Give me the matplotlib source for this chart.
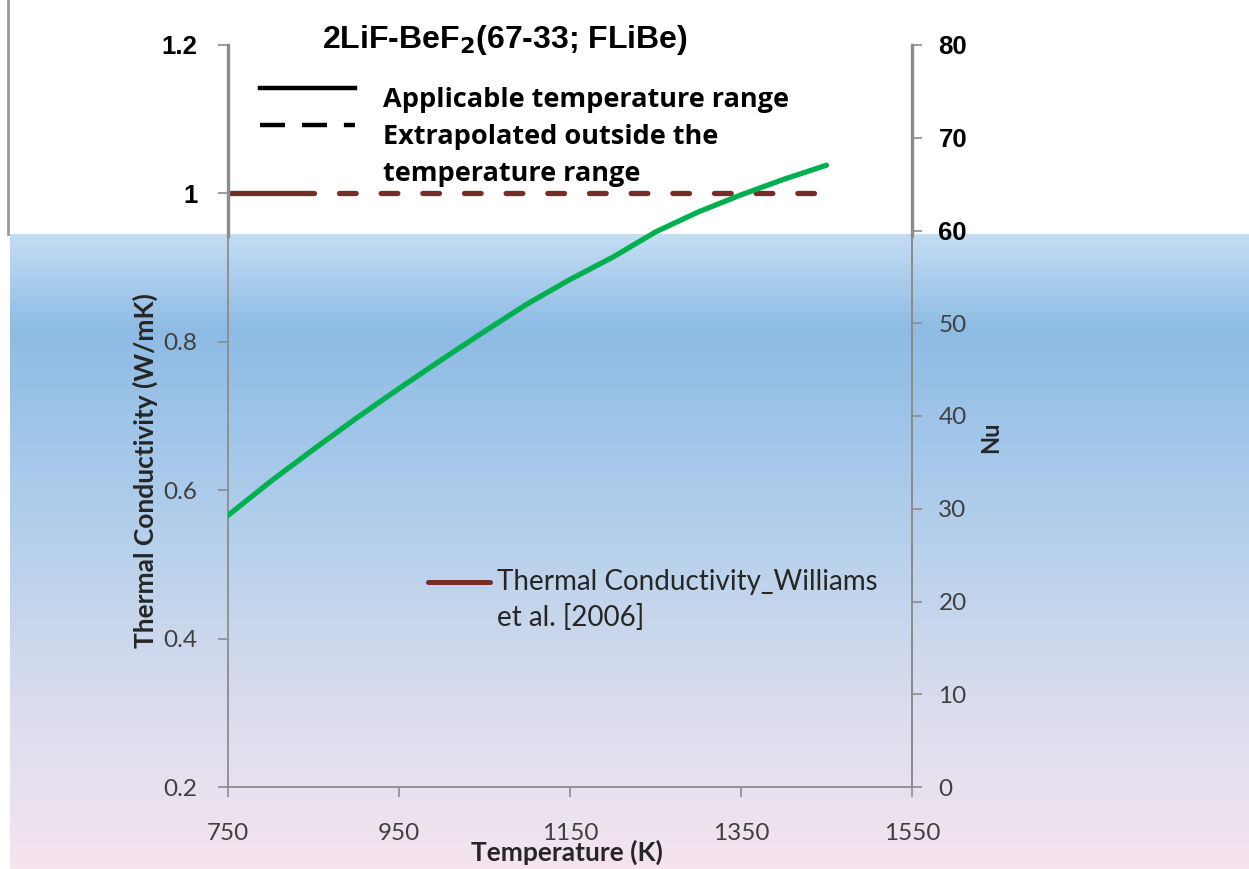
import numpy as np
import matplotlib
matplotlib.use("Agg")
import matplotlib.pyplot as plt
from matplotlib.colors import LinearSegmentedColormap

plt.rcParams["lines.scale_dashes"] = False

# data
temp_fit = [750, 800, 850, 900, 950, 1000, 1050, 1100, 1150, 1200, 1250, 1300, 1350, 1400, 1450]
k_fit = [0.566, 0.612, 0.655, 0.697, 0.737, 0.776, 0.814, 0.851, 0.884, 0.914, 0.948, 0.975, 0.998, 1.019, 1.038]

temp_williams = [750, 850]
k_williams = [1.0, 1.0]
temp_williams_ext = [850, 1450]
k_williams_ext = [1.0, 1.0]

left_ticks = [0.2, 0.4, 0.6, 0.8, 1.0, 1.2]
left_labels = ["0.2", "0.4", "0.6", "0.8", "1", "1.2"]
right_ticks = [0, 10, 20, 30, 40, 50, 60, 70, 80]
x_ticks = [750, 950, 1150, 1350, 1550]

W, H = 1249, 869
fig = plt.figure(figsize=(W / 100, H / 100), dpi=100)
fig.patch.set_facecolor("white")

# background gradient (lower part of the picture)
bg = fig.add_axes([0, 0, 1, 1], zorder=-10)
bg.set_xlim(0, W)
bg.set_ylim(H, 0)
bg.axis("off")
stops = [(0.0, "#c4ddf3"), (0.15, "#8ebbe4"), (0.35, "#a5c8ea"), (0.56, "#c0d4ec"),
         (0.74, "#dbdcee"), (0.92, "#ece2f0"), (1.0, "#f6e4ef")]
cmap = LinearSegmentedColormap.from_list("bgfade", stops)
grad = np.linspace(0, 1, 256).reshape(-1, 1)
bg.imshow(grad, cmap=cmap, aspect="auto", extent=[10, W, H, 234], interpolation="bilinear")
bg.plot([8, 8], [0, 234], color="#9a9a9a", lw=2)

ax = fig.add_axes([228 / W, 1 - 787 / H, 684 / W, 742 / H])
ax.set_facecolor("none")
ax2 = ax.twinx()

ax.plot(temp_fit, k_fit, color="#00b050", lw=3.8, solid_capstyle="round", zorder=3)
ax.plot(temp_williams, k_williams, color="#772c2a", lw=3.8, solid_capstyle="round", zorder=2)
ax.plot(temp_williams_ext, k_williams_ext, color="#772c2a", lw=3.8,
        linestyle=(12, (12, 18)), dash_capstyle="round", zorder=2)

ax.set_xlim(750, 1550)
ax.set_ylim(0.2, 1.2)
ax2.set_ylim(0, 80)
ax.set_xticks(x_ticks)
ax.set_yticks(left_ticks)
ax.set_yticklabels(left_labels)
ax2.set_yticks(right_ticks)

for a in (ax, ax2):
    for s in a.spines.values():
        s.set_color("#8c8c8c")
        s.set_linewidth(1.3)
    a.spines["top"].set_visible(False)
ax2.spines["left"].set_visible(False)
ax2.spines["bottom"].set_visible(False)

# the pasted top block draws the axis lines a bit heavier
for xp in (228, 912):
    fig.add_artist(plt.Line2D([xp / W] * 2, [1 - 45 / H, 1 - 236 / H], color="#8c8c8c", lw=2.4))

normal = dict(family="Lato", size=17.5, color="#404040")
ax.tick_params(axis="y", length=7, width=1.2, color="#8c8c8c", pad=15)
ax.tick_params(axis="x", length=7, width=1.2, color="#8c8c8c", pad=19)
ax2.tick_params(axis="y", length=7, width=1.2, color="#8c8c8c", pad=12)
for lab in ax.get_xticklabels():
    lab.set(**normal)
for lab, v in zip(ax.get_yticklabels(), left_ticks):
    if v >= 1.0:
        lab.set(family="Liberation Sans", size=18.5, weight="bold", color="black")
    else:
        lab.set(**normal)
for lab, v in zip(ax2.get_yticklabels(), right_ticks):
    if v >= 60:
        lab.set(family="Liberation Sans", size=18.5, weight="bold", color="black")
    else:
        lab.set(**normal)

ax.set_ylabel("Thermal Conductivity (W/mK)", family="Lato", weight="bold", size=19, color="#262626")
ax.yaxis.set_label_coords(-0.103, 0.427)
ax.set_xlabel("Temperature (K)", family="Lato", weight="bold", size=19, color="#262626")
ax.xaxis.set_label_coords(0.496, -0.071)
ax2.set_ylabel("Nu", family="Lato", weight="bold", size=17, color="#262626", rotation=90)
ax2.yaxis.set_label_coords(1.098, 0.472)

# top annotation block
fig.text(505 / W, 1 - 40 / H, r"2LiF-BeF$_\mathbf{2}$(67-33; FLiBe)", family="Liberation Sans",
         weight="bold", size=23, ha="center", va="center")
lx0, lx1 = 260 / W, 355 / W
fig.add_artist(plt.Line2D([lx0, lx1], [1 - 88 / H] * 2, color="black", lw=3.2))
fig.add_artist(plt.Line2D([lx0, lx1], [1 - 125 / H] * 2, color="black", lw=3.2,
                          linestyle=(0, (18, 12.2))))
bold = dict(family="Open Sans", weight="bold", size=19.5, ha="left", va="center")
fig.text(383 / W, 1 - 100 / H, "Applicable temperature range", **bold)
fig.text(383 / W, 1 - 137 / H, "Extrapolated outside the", **bold)
fig.text(383 / W, 1 - 174 / H, "temperature range", **bold)

# series legend
fig.add_artist(plt.Line2D([428 / W, 490 / W], [1 - 582 / H] * 2, color="#772c2a", lw=3.6,
                          solid_capstyle="round"))
fig.text(497 / W, 1 - 582 / H, "Thermal Conductivity_Williams", family="Lato", size=20,
         color="#262626", ha="left", va="center")
fig.text(497 / W, 1 - 618 / H, "et al. [2006]", family="Lato", size=20,
         color="#262626", ha="left", va="center")

fig.savefig("out.png", dpi=100)
